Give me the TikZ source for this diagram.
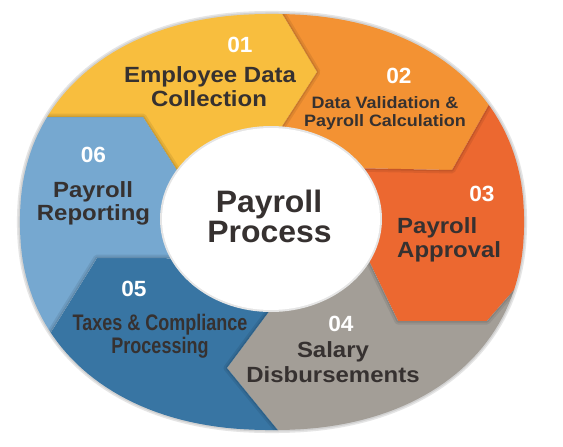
\documentclass[tikz,border=0pt]{standalone}
\usepackage{fontspec}
\setmainfont{Liberation Sans}
\newfontfamily\fwide{Liberation Sans}[FakeStretch=1.09]
\newfontfamily\fnarrow{Liberation Sans}[FakeStretch=0.8]
\newfontfamily\fcent{Liberation Sans}[FakeStretch=1.03]
\definecolor{cYel}{HTML}{F8BE3E}
\definecolor{cOra}{HTML}{F39233}
\definecolor{cRed}{HTML}{EC6830}
\definecolor{cGry}{HTML}{A39E97}
\definecolor{cDbl}{HTML}{3875A3}
\definecolor{cLbl}{HTML}{76A8D0}
\definecolor{txt}{HTML}{363130}
\begin{document}
\begin{tikzpicture}[x=1pt,y=-1pt,
  num/.style={text=white,font=\fcent\bfseries\fontsize{22}{22}\selectfont,anchor=center,inner sep=0pt},
  lab/.style={text=txt,font=\fwide\bfseries\fontsize{22}{24}\selectfont,anchor=base,inner sep=0pt},
  labs/.style={text=txt,font=\fwide\bfseries\fontsize{16.5}{18}\selectfont,anchor=base,inner sep=0pt},
  labn/.style={text=txt,font=\fnarrow\bfseries\fontsize{22.5}{24}\selectfont,anchor=base,inner sep=0pt},
  ctr/.style={text=txt,font=\fcent\bfseries\fontsize{31}{31}\selectfont,anchor=base,inner sep=0pt},
  shd/.style={draw=black,line width=7pt,opacity=0.08,line join=round},
  shdb/.style={draw=black,line width=3pt,opacity=0.09,line join=round}]
\useasboundingbox (0,0) rectangle (563,447);
\fill[white] (0,0) rectangle (563,447);
% outer outline of the ring (superellipse)
\def\outline{plot[domain=1:359,samples=180]
  ({272+252*sign(cos(\x))*abs(cos(\x))^(0.9091)},
   {222+208*sign(sin(\x))*abs(sin(\x))^(0.9091)}) -- cycle}
% boundary points
\coordinate (C) at (271,219);
\coordinate (b1o) at (268,-10); \coordinate (b1m) at (317,72); \coordinate (b1i) at (270,145);
\coordinate (b2o) at (500,85); \coordinate (b2m) at (452,170); \coordinate (b2i) at (350,168);
\coordinate (b3o) at (540,260); \coordinate (b3m1) at (487,321); \coordinate (b3m2) at (398,321); \coordinate (b3i) at (355,232);
\coordinate (b4o) at (290,445); \coordinate (b4m) at (227,368); \coordinate (b4i) at (285,290);
\coordinate (b5o) at (40,350); \coordinate (b5m1) at (97,258); \coordinate (b5m2) at (165,258); \coordinate (b5i) at (190,262);
\coordinate (b6o) at (30,117); \coordinate (b6m1) at (143,117); \coordinate (b6m2) at (178,172); \coordinate (b6i) at (195,198);
\def\regA{(b6o)--(b6m1)--(b6m2)--(b6i)--(C)--(b1i)--(b1m)--(b1o)--(100,-200)--(-200,0)--cycle}
\def\regB{(b1o)--(b1m)--(b1i)--(C)--(b2i)--(b2m)--(b2o)--(700,-100)--(400,-250)--cycle}
\def\regC{(b2o)--(b2m)--(b2i)--(C)--(b3i)--(b3m2)--(b3m1)--(b3o)--(800,300)--(750,-50)--cycle}
\def\regD{(b3o)--(b3m1)--(b3m2)--(b3i)--(C)--(b4i)--(b4m)--(b4o)--(400,700)--(800,500)--cycle}
\def\regE{(b4o)--(b4m)--(b4i)--(C)--(b5i)--(b5m2)--(b5m1)--(b5o)--(-200,500)--(100,700)--cycle}
\def\regF{(b5o)--(b5m1)--(b5m2)--(b5i)--(C)--(b6i)--(b6m2)--(b6m1)--(b6o)--(-300,100)--(-300,400)--cycle}
% soft outer halo
\draw[black!10, line width=6pt] \outline;
\draw[black!18, line width=3pt] \outline;
\begin{scope}
\clip \outline;
\fill[cYel] \regA;
\fill[cOra] \regB;
\fill[cRed] \regC;
\fill[cGry] \regD;
\fill[cDbl] \regE;
\fill[cLbl] \regF;
\begin{scope}\clip \regB; \draw[shd] (b1o)--(b1m)--(b1i); \draw[shdb] (b1o)--(b1m)--(b1i); \end{scope}
\begin{scope}\clip \regC; \draw[shd] (b2o)--(b2m)--(b2i); \draw[shdb] (b2o)--(b2m)--(b2i); \end{scope}
\begin{scope}\clip \regD; \draw[shd] (b3o)--(b3m1)--(b3m2)--(b3i); \draw[shdb] (b3o)--(b3m1)--(b3m2)--(b3i); \end{scope}
\begin{scope}\clip \regE; \draw[shd] (b4o)--(b4m)--(b4i); \draw[shdb] (b4o)--(b4m)--(b4i); \end{scope}
\begin{scope}\clip \regF; \draw[shd] (b5o)--(b5m1)--(b5m2)--(b5i); \draw[shdb] (b5o)--(b5m1)--(b5m2)--(b5i); \end{scope}
\begin{scope}\clip \regA; \draw[shd] (b6o)--(b6m1)--(b6m2)--(b6i); \draw[shdb] (b6o)--(b6m1)--(b6m2)--(b6i); \end{scope}
\end{scope}
% inner white ellipse
\fill[black!10] (271,219) ellipse [x radius=111pt, y radius=93pt];
\fill[white] (271,219) ellipse [x radius=109pt, y radius=91pt];
% centre text
\node[ctr] (pp1) at (269,212) {Payroll};
\node[ctr] (pp2) at (269.5,242) {Process};
% 01
\node[num] (n1) at (240,45) {01};
\node[lab] (l1a) at (210,82) {Employee Data};
\node[lab] (l1b) at (209,106) {Collection};
% 02
\node[num] (n2) at (399,76) {02};
\node[labs] (l2a) at (385,108) {Data Validation \&};
\node[labs] (l2b) at (385,126) {Payroll Calculation};
% 03
\node[num] (n3) at (482,193.5) {03};
\node[lab,anchor=base west] (l3a) at (397,233) {Payroll};
\node[lab,anchor=base west] (l3b) at (397,257) {Approval};
% 04
\node[num] (n4) at (341,324) {04};
\node[lab] (l4a) at (333,357) {Salary};
\node[lab] (l4b) at (333,382) {Disbursements};
% 05
\node[num] (n5) at (134,288.5) {05};
\node[labn] (l5a) at (160,330) {Taxes \& Compliance};
\node[labn] (l5b) at (160,353) {Processing};
% 06
\node[num] (n6) at (93.5,155) {06};
\node[lab] (l6a) at (93,197) {Payroll};
\node[lab] (l6b) at (93.5,220) {Reporting};
\end{tikzpicture}
\end{document}
